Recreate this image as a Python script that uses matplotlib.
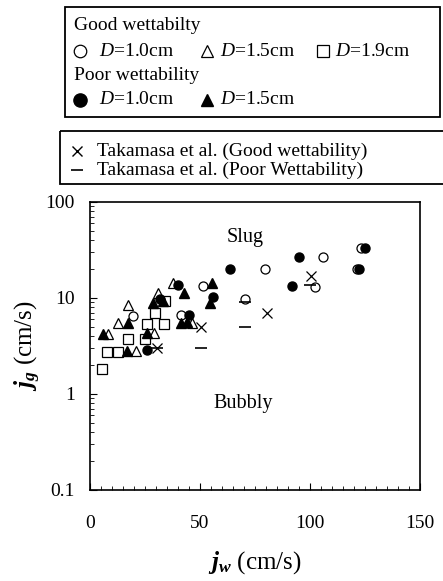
import matplotlib
matplotlib.use("Agg")
import matplotlib.pyplot as plt
from matplotlib.patches import Rectangle
from matplotlib.ticker import FixedLocator, MultipleLocator, LogLocator, NullFormatter

plt.rcParams['font.family'] = ['Liberation Serif', 'DejaVu Serif']
plt.rcParams['mathtext.fontset'] = 'custom'
plt.rcParams['mathtext.rm'] = 'Liberation Serif'
plt.rcParams['mathtext.it'] = 'Liberation Serif:italic'
plt.rcParams['mathtext.bf'] = 'Liberation Serif:bold'
plt.rcParams['mathtext.bfit'] = 'Liberation Serif:bold:italic'

# ---- data (jw [cm/s], jg [cm/s]) ----
good_d10_x = [19.7, 41.2, 51.2, 70.5, 79.5, 102.3, 106.0, 123.0, 121.5]
good_d10_y = [6.5, 6.6, 13.3, 9.7, 20.0, 13.1, 26.5, 33.0, 20.0]

good_d15_x = [8.3, 12.9, 17.4, 20.9, 29.2, 31.0, 37.6, 46.2]
good_d15_y = [4.2, 5.5, 8.5, 2.8, 4.35, 11.4, 14.3, 5.5]

good_d19_x = [5.3, 7.6, 12.9, 17.4, 25.0, 26.0, 29.5, 33.6, 34.0]
good_d19_y = [1.8, 2.75, 2.75, 3.7, 3.7, 5.4, 7.0, 5.4, 9.2]

poor_d10_x = [26.0, 32.0, 40.1, 45.2, 55.8, 63.8, 91.7, 95.1, 122.4, 125.0]
poor_d10_y = [2.9, 9.7, 13.5, 6.6, 10.2, 20.0, 13.3, 26.5, 20.0, 33.0]

poor_d15_x = [6.1, 16.7, 17.4, 25.8, 28.8, 33.0, 42.7, 41.2, 44.0, 54.5, 55.3]
poor_d15_y = [4.2, 2.8, 5.5, 4.35, 8.8, 9.3, 11.4, 5.5, 5.6, 8.9, 14.4]

tak_good_x = [30.3, 50.3, 80.6, 100.3]
tak_good_y = [3.05, 5.0, 7.0, 16.9]

tak_poor_x = [30.3, 50.3, 70.5, 70.5, 100.0]
tak_poor_y = [3.05, 3.05, 5.0, 9.0, 13.7]

x_ticks = [0, 50, 100, 150]
y_ticks = [0.1, 1, 10, 100]
y_tick_labels = ['0.1', '1', '10', '100']

W, H = 443, 581
fig = plt.figure(figsize=(W / 100, H / 100), dpi=100)
ax = fig.add_axes([90 / W, 1 - 490 / H, 330 / W, 288 / H])

ms_c, ms_t, ms_s = 6.5, 7.5, 7.0
ow = dict(markerfacecolor='white', markeredgecolor='black', markeredgewidth=0.9, linestyle='none')
fw = dict(color='black', linestyle='none')

ax.plot(good_d19_x, good_d19_y, 's', ms=ms_s, **ow)
ax.plot(good_d15_x, good_d15_y, '^', ms=ms_t, **ow)
ax.plot(good_d10_x, good_d10_y, 'o', ms=ms_c, **ow)
ax.plot(poor_d15_x, poor_d15_y, '^', ms=ms_t, **fw)
ax.plot(poor_d10_x, poor_d10_y, 'o', ms=ms_c, **fw)
ax.plot(tak_good_x, tak_good_y, 'x', ms=7, mew=0.9, **fw)
ax.plot(tak_poor_x, tak_poor_y, '_', ms=8, mew=1.2, **fw)

ax.set_xlim(0, 150)
ax.set_yscale('log')
ax.set_ylim(0.1, 100)
ax.xaxis.set_major_locator(FixedLocator(x_ticks))
ax.xaxis.set_minor_locator(MultipleLocator(5))
ax.set_yticks(y_ticks)
ax.set_yticklabels(y_tick_labels)
ax.yaxis.set_minor_locator(LogLocator(base=10, subs=range(2, 10)))
ax.yaxis.set_minor_formatter(NullFormatter())

ax.tick_params(axis='both', which='both', direction='in', top=False, right=False, labelsize=14)
ax.tick_params(axis='x', which='major', length=5, width=0.8, pad=18)
ax.tick_params(axis='x', which='minor', length=3, width=0.6)
ax.tick_params(axis='y', which='major', length=5, width=0.8, pad=11)
ax.tick_params(axis='y', which='minor', length=3, width=0.6)
for s in ax.spines.values():
    s.set_linewidth(1.2)

ax.set_xlabel(r'$\mathbfit{j}_{\mathbfit{w}}$ (cm/s)', fontsize=18, labelpad=12)
ax.set_ylabel(r'$\mathbfit{j}_{\mathbfit{g}}$ (cm/s)', fontsize=18, labelpad=2)

ax.text(70.5, 43, 'Slug', fontsize=14.5, ha='center', va='center')
ax.text(69.5, 0.8, 'Bubbly', fontsize=14.5, ha='center', va='center')

# ---- legends drawn in pixel space ----
lg = fig.add_axes([0, 0, 1, 1], facecolor='none')
lg.set_xlim(0, W)
lg.set_ylim(H, 0)
lg.axis('off')

lg.add_patch(Rectangle((65, 7), 375, 110, fill=False, lw=1.3, ec='black'))
lg.add_patch(Rectangle((60, 131), 400, 53, fill=False, lw=1.3, ec='black', clip_on=True))

fs = 14
lg.text(74, 25, 'Good wettabilty', fontsize=fs, va='center', ha='left')
lg.plot([80], [51], 'o', ms=9, **ow)
lg.text(99, 51, '$D$=1.0cm', fontsize=fs, va='center')
lg.plot([207], [51], '^', ms=9, **ow)
lg.text(220, 51, '$D$=1.5cm', fontsize=fs, va='center')
lg.plot([323], [51], 's', ms=8.5, **ow)
lg.text(335, 51, '$D$=1.9cm', fontsize=fs, va='center')
lg.text(74, 76, 'Poor wettability', fontsize=fs, va='center', ha='left')
lg.plot([80], [100], 'o', ms=9.5, **fw)
lg.plot([207], [100], '^', ms=9, **fw)
lg.text(99, 100, '$D$=1.0cm', fontsize=fs, va='center')
lg.text(220, 100, '$D$=1.5cm', fontsize=fs, va='center')

lg.plot([77], [151], 'x', ms=6.5, mew=1.0, **fw)
lg.text(97, 151, 'Takamasa et al. (Good wettability)', fontsize=fs, va='center')
lg.plot([77], [170], '_', ms=9, mew=1.2, **fw)
lg.text(97, 170, 'Takamasa et al. (Poor Wettability)', fontsize=fs, va='center')

fig.savefig('out.png', dpi=100)
